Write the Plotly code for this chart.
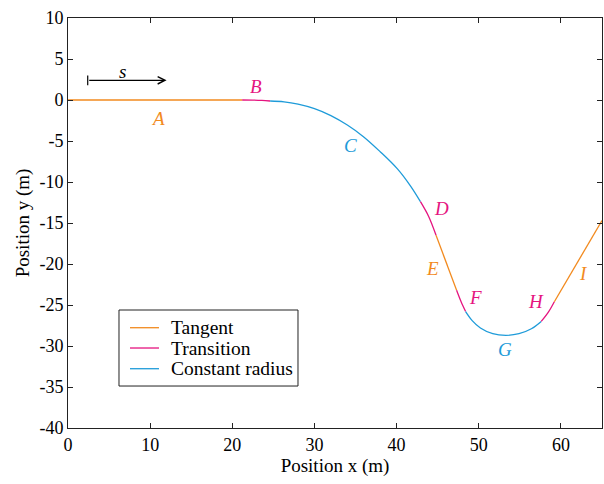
import plotly.graph_objects as go

# ---- data ----
seg_names = ["A", "B", "C", "D", "E", "F", "G", "H", "I"]
seg_types = ["Tangent", "Transition", "Constant radius", "Transition", "Tangent",
             "Transition", "Constant radius", "Transition", "Tangent"]
seg_x = [
    [0.0, 21.2],
    [21.2, 22.5, 23.6, 24.6],
    [24.6, 26.3, 28.0, 30.0, 32.0, 34.0, 36.0, 38.0, 40.1, 41.7, 42.9],
    [42.9, 43.9, 44.8],
    [44.8, 47.3],
    [47.3, 47.85, 48.4],
    [48.4, 49.2, 50.2, 51.7, 53.3, 54.9, 56.4, 57.6],
    [57.6, 58.45, 59.2],
    [59.2, 65.0],
]
seg_y = [
    [0.0, 0.0],
    [0.0, -0.01, -0.05, -0.12],
    [-0.12, -0.22, -0.5, -1.05, -1.9, -3.05, -4.5, -6.3, -8.4, -10.5, -12.4],
    [-12.4, -14.2, -16.5],
    [-16.5, -23.2],
    [-23.2, -24.6, -25.8],
    [-25.8, -26.9, -27.8, -28.5, -28.7, -28.5, -27.9, -27.0],
    [-27.0, -25.9, -24.6],
    [-24.6, -14.7],
]
label_x = [11.0, 22.9, 34.4, 45.5, 44.4, 49.6, 53.2, 57.0, 62.7]
label_y = [-2.2, 1.6, -5.6, -13.2, -20.6, -24.1, -30.4, -24.6, -21.1]

legend_labels = ["Tangent", "Transition", "Constant radius"]

x_ticks = [0, 10, 20, 30, 40, 50, 60]
y_ticks = [10, 5, 0, -5, -10, -15, -20, -25, -30, -35, -40]
y_ticktext = ["10", "5", "0", "-5", "-10", "-15", "-20", "-25", "-30", "-35", "-40"]

arrow_x = [2.4, 12.0]
arrow_y = 2.4
s_label = (6.6, 3.5)

colors = {"Tangent": "#F28A1E", "Transition": "#E5147F", "Constant radius": "#1E9BD9"}

fig = go.Figure()
for name, t, xs, ys in zip(seg_names, seg_types, seg_x, seg_y):
    fig.add_trace(go.Scatter(
        x=xs, y=ys, mode="lines", name=t, legendgroup=t, showlegend=False,
        line=dict(color=colors[t], width=1.3, shape="spline", smoothing=1.0),
        hoverinfo="skip"))

font = "Liberation Serif"
for name, t, lx, ly in zip(seg_names, seg_types, label_x, label_y):
    fig.add_annotation(x=lx, y=ly, text=f"<i>{name}</i>", showarrow=False,
                       font=dict(family=font, size=19, color=colors[t]))

# arrow "s"
fig.add_annotation(x=arrow_x[1], y=arrow_y, ax=arrow_x[0], ay=arrow_y,
                   xref="x", yref="y", axref="x", ayref="y", text="",
                   showarrow=True, arrowhead=5, arrowsize=1.2, arrowwidth=1.2,
                   arrowcolor="black", standoff=0, startstandoff=0)
fig.add_shape(type="line", x0=arrow_x[0], x1=arrow_x[0], y0=arrow_y - 0.6,
              y1=arrow_y + 0.6, line=dict(color="black", width=1.2))
fig.add_annotation(x=s_label[0], y=s_label[1], text="<i>s</i>", showarrow=False,
                   font=dict(family=font, size=19, color="black"))

# legend box (drawn to match the reference's compact spacing)
fig.add_shape(type="rect", xref="paper", yref="paper", x0=0.0955, x1=0.4307,
              y0=0.1024, y1=0.2878, line=dict(color="#222", width=1),
              fillcolor="white", layer="above")
leg_y = [0.2446, 0.1951, 0.1446]
for lab, ly in zip(legend_labels, leg_y):
    fig.add_shape(type="line", xref="paper", yref="paper", x0=0.1161, x1=0.1704,
                  y0=ly, y1=ly, line=dict(color=colors[lab], width=1.3), layer="above")
    fig.add_annotation(xref="paper", yref="paper", x=0.1891, y=ly, text=lab,
                       xanchor="left", yanchor="middle", showarrow=False,
                       font=dict(family=font, size=19.5, color="black"))

axis_common = dict(showgrid=False, zeroline=False, showline=True, mirror="ticks",
                   linecolor="#222", linewidth=1, ticks="inside", ticklen=5,
                   tickcolor="#222", tickfont=dict(family=font, size=18, color="black"))
fig.update_xaxes(range=[0, 65], tickvals=x_ticks,
                 title=dict(text="Position x (m)", font=dict(family=font, size=19, color="black"),
                            standoff=2),
                 **axis_common)
fig.update_yaxes(range=[-40, 10], tickvals=y_ticks, ticktext=y_ticktext,
                 title=dict(text="Position y (m)", font=dict(family=font, size=19, color="black"),
                            standoff=4),
                 **axis_common)

fig.update_layout(
    width=604, height=484,
    margin=dict(l=68, r=2, t=18, b=56),
    plot_bgcolor="white", paper_bgcolor="white",
    showlegend=False,
)
fig.write_html("out.html", config={"displayModeBar": False},
               post_script="document.body.style.margin='0';")
